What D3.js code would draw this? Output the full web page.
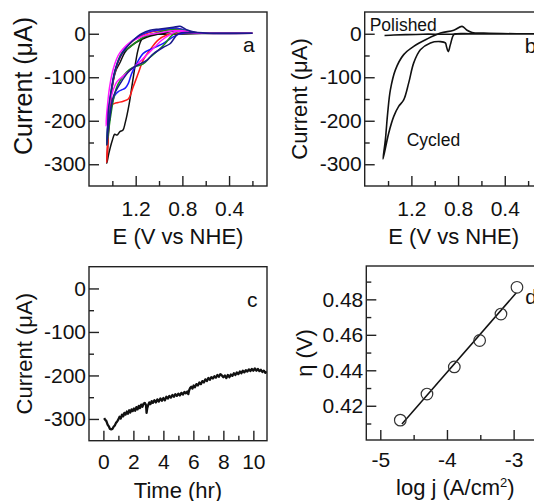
<!DOCTYPE html>
<html lang="en">
<head>
  <meta charset="utf-8">
  <title>CV panels</title>
  <style>
    body { margin: 0; background: #fff; }
    svg { display: block; }
    text { font-family: "Liberation Sans", Arial, sans-serif; fill: #111; }
    .axis .domain { display: none; }
    .axis line { stroke: #222; stroke-width: 1.4; }
    .axis text { font-size: 21px; }
    .frame { fill: none; stroke: #222; stroke-width: 1.4; }
  </style>
</head>
<body>
  <script src="https://d3js.org/d3.v7.min.js"></script>
  <svg width="534" height="501"></svg>
  <script>
    // ---- panel a : CVs, one loop per curve, [E (V), I (uA)] ----
    var cvBlack = [[0.2,1],[0.5,1],[0.7,0],[0.9,-1],[1.0,-1],[1.1,-3],[1.15,-14],[1.18,-37],[1.22,-99],[1.255,-160],
      [1.29,-205],[1.31,-222],[1.335,-225],[1.36,-233],[1.38,-231],[1.40,-245],[1.43,-275],[1.448,-298],
      [1.44,-262],[1.43,-215],[1.415,-165],[1.40,-120],[1.37,-85],[1.334,-66],[1.291,-42],[1.24,-28],[1.191,-19],
      [1.106,-8],[0.992,0],[0.85,7],[0.78,5],[0.7,2],[0.5,1],[0.2,1]];
    var cvRed = [[0.2,1],[0.6,1],[0.8,1],[0.89,0],[0.934,-3],[1.006,-14],[1.077,-37],[1.135,-60],[1.178,-91],[1.22,-121],
      [1.263,-150],[1.306,-155],[1.35,-158],[1.38,-160],[1.415,-166],[1.43,-205],[1.437,-250],[1.448,-296],
      [1.44,-240],[1.425,-180],[1.405,-130],[1.38,-92],[1.35,-65],[1.31,-42],[1.26,-25],[1.2,-12],[1.13,-2],
      [1.05,5],[0.95,9],[0.85,12],[0.78,8],[0.68,2],[0.5,1],[0.2,1]];
    var cvBlue = [[0.2,1],[0.6,1],[0.78,2],[0.84,-2],[0.878,-7],[0.963,-22],[1.049,-33],[1.135,-45],[1.19,-68],[1.234,-91],
      [1.263,-114],[1.29,-125],[1.32,-129],[1.349,-133],[1.38,-142],[1.41,-170],[1.43,-210],[1.447,-252],
      [1.44,-210],[1.425,-165],[1.405,-125],[1.38,-90],[1.35,-62],[1.31,-40],[1.26,-24],[1.2,-10],[1.14,-1],
      [1.06,6],[0.95,10],[0.85,13],[0.78,8],[0.68,2],[0.5,1],[0.2,1]];
    var cvGreen = [[0.2,1],[0.6,1],[0.75,4],[0.835,5],[0.891,-4],[0.949,-23],[1.006,-38],[1.077,-54],[1.135,-69],[1.22,-77],
      [1.277,-88],[1.334,-108],[1.363,-123],[1.39,-150],[1.415,-190],[1.435,-230],[1.448,-256],
      [1.44,-215],[1.425,-165],[1.405,-125],[1.385,-95],[1.36,-70],[1.32,-45],[1.249,-31],[1.2,-20],[1.135,-8],
      [1.049,0],[0.934,8],[0.85,10],[0.78,7],[0.68,2],[0.5,1],[0.2,1]];
    var cvMagenta = [[0.2,1],[0.6,1],[0.75,4],[0.85,5],[0.906,-2],[0.977,-15],[1.034,-30],[1.09,-45],[1.14,-58],[1.19,-71],
      [1.25,-85],[1.31,-98],[1.36,-110],[1.40,-135],[1.43,-170],[1.454,-212],
      [1.45,-190],[1.44,-160],[1.425,-125],[1.405,-95],[1.38,-70],[1.35,-50],[1.31,-35],[1.26,-22],[1.22,-15],
      [1.16,-8],[1.106,-3],[0.992,2],[0.878,7],[0.8,7],[0.7,2],[0.5,1],[0.2,1]];
    var cvNavy = [[0.2,1],[0.6,1],[0.75,3],[0.835,0],[0.906,-23],[0.963,-31],[1.049,-46],[1.106,-61],[1.191,-73],[1.249,-84],
      [1.334,-115],[1.392,-145],[1.42,-190],[1.438,-225],[1.448,-256],
      [1.44,-215],[1.434,-176],[1.405,-122],[1.377,-84],[1.334,-54],[1.277,-31],[1.22,-15],[1.149,0],[1.077,8],
      [0.992,11],[0.878,15],[0.82,17],[0.77,10],[0.7,4],[0.6,2],[0.4,1],[0.2,1]];
    var cvCurves = [cvBlack, cvRed, cvBlue, cvGreen, cvMagenta, cvNavy];
    var cvColors = ["#111111", "#ff1a1a", "#1a1aff", "#1a8a1a", "#ff1aff", "#1a1a8c"];

    // ---- panel b : polished vs cycled electrode ----
    var polished = [[1.43,-4],[1.35,-3],[1.25,-2],[1.1,-1],[0.9,-1],[0.7,0],[0.4,0],[0.1,0]];
    var cycled = [[0.1,0],[0.5,0],[0.7,0],[0.809,0],[0.837,-2],[0.866,-25],[0.884,-41],[0.899,-30],[0.909,-21],[0.951,-18],
      [1.037,-21],[1.123,-37],[1.18,-67],[1.223,-113],[1.266,-152],[1.309,-167],[1.351,-190],[1.394,-228],[1.443,-288],
      [1.423,-244],[1.403,-182],[1.38,-129],[1.337,-83],[1.266,-48],[1.18,-29],[1.066,-12],[0.951,1.5],[0.837,8],
      [0.766,17],[0.723,8],[0.68,3],[0.58,1.5],[0.3,0],[0.1,0]];

    // ---- panel c : chronoamperometry [t (hr), I (uA)] ----
    var chrono = [[0.05,-298],[0.12,-302],[0.2,-305],[0.28,-313],[0.36,-317],[0.44,-323],[0.52,-324],[0.6,-323],[0.68,-318],
      [0.76,-315],[0.84,-309],[0.92,-306],[1.0,-301],[1.08,-295],[1.16,-299],[1.24,-290],[1.32,-294],[1.4,-286],[1.48,-290],
      [1.56,-283],[1.64,-288],[1.72,-280],[1.8,-285],[1.88,-278],[1.96,-282],[2.04,-276],[2.12,-281],[2.2,-273],[2.28,-278],
      [2.36,-270],[2.44,-275],[2.52,-267],[2.6,-272],[2.68,-265],[2.76,-263],[2.84,-268],[2.88,-286],[2.92,-276],[2.98,-269],
      [3.06,-262],[3.14,-266],[3.22,-259],[3.3,-263],[3.4,-257],[3.5,-262],[3.6,-255],[3.7,-260],[3.8,-253],[3.9,-258],
      [4.0,-252],[4.1,-257],[4.2,-249],[4.3,-253],[4.4,-247],[4.5,-251],[4.6,-245],[4.7,-249],[4.8,-243],[4.9,-247],
      [5.0,-242],[5.1,-246],[5.2,-240],[5.3,-244],[5.4,-238],[5.5,-241],[5.6,-237],[5.66,-243],[5.72,-234],[5.78,-229],
      [5.86,-226],[5.94,-230],[6.02,-223],[6.1,-227],[6.2,-220],[6.3,-223],[6.4,-216],[6.5,-220],[6.6,-213],[6.7,-216],
      [6.8,-209],[6.9,-213],[7.0,-206],[7.1,-210],[7.2,-204],[7.3,-207],[7.4,-202],[7.5,-205],[7.6,-199],[7.7,-203],
      [7.8,-197],[7.9,-200],[8.0,-204],[8.1,-200],[8.2,-206],[8.3,-199],[8.4,-204],[8.5,-198],[8.6,-201],[8.7,-195],
      [8.8,-199],[8.9,-193],[9.0,-197],[9.1,-191],[9.2,-195],[9.3,-189],[9.4,-193],[9.5,-188],[9.6,-191],[9.7,-186],
      [9.8,-190],[9.9,-185],[10.0,-189],[10.1,-184],[10.2,-189],[10.3,-185],[10.4,-190],[10.5,-187],[10.6,-192],
      [10.7,-189],[10.8,-194],[10.9,-191]];

    // ---- panel d : Tafel plot ----
    var tafelLogJ = [-4.7, -4.3, -3.89, -3.51, -3.19, -2.95];
    var tafelEta = [0.4119, 0.4266, 0.4419, 0.4568, 0.4717, 0.4868];
    var tafelFit = [[-4.675, 0.4097], [-2.96, 0.4837]];

    // tick labels
    var cvTicks = [1.2, 0.8, 0.4], cvMinor = [1.4, 1.0, 0.6, 0.2];
    var currentTicks = [0, -100, -200, -300], currentMinor = [-50, -150, -250];
    var timeTicks = [0, 2, 4, 6, 8, 10], timeMinor = [1, 3, 5, 7, 9];
    var logjTicks = [-5, -4, -3], logjMinor = [-4.5, -3.5];
    var etaTicks = [0.42, 0.44, 0.46, 0.48], etaMinor = [0.41, 0.43, 0.45, 0.47, 0.49];

    const svg = d3.select("svg");
    const W = 178, H = 174;

    function panel(id, left, top, xDomain, yDomain, o) {
      var x = d3.scaleLinear().domain(xDomain).range([0, W]);
      var y = d3.scaleLinear().domain(yDomain).range([H, 0]);
      var g = svg.append("g").attr("transform", "translate(" + left + "," + top + ")");

      g.append("clipPath").attr("id", "clip-" + id)
        .append("rect").attr("width", W).attr("height", H);
      var plot = g.append("g").attr("clip-path", "url(#clip-" + id + ")");

      // inward ticks, minor ones shorter
      g.append("g").attr("class", "axis").call(d3.axisLeft(y).tickValues(o.yMinor).tickSize(-5).tickFormat(""));
      g.append("g").attr("class", "axis")
        .call(d3.axisLeft(y).tickValues(o.yTicks).tickSize(-10).tickPadding(3).tickFormat(o.yFmt));
      g.append("g").attr("class", "axis").attr("transform", "translate(0," + H + ")")
        .call(d3.axisBottom(x).tickValues(o.xMinor).tickSize(-5).tickFormat(""));
      var xa = g.append("g").attr("class", "axis").attr("transform", "translate(0," + H + ")")
        .call(d3.axisBottom(x).tickValues(o.xTicks).tickSize(-10).tickFormat(o.xFmt));
      xa.selectAll("text").attr("y", o.xLabelY).attr("dy", 0);

      g.append("rect").attr("class", "frame").attr("width", W).attr("height", H);

      g.append("text").attr("x", W / 2).attr("y", H + o.xTitleY)
        .attr("text-anchor", "middle").style("font-size", "22px").html(o.xTitle);
      g.append("text").attr("transform", "translate(" + o.yTitleX + "," + (H / 2 + (o.yTitleShift || 0)) + ")rotate(-90)")
        .attr("text-anchor", "middle").style("font-size", (o.yTitleSize || 22) + "px").text(o.yTitle);

      g.append("text").attr("x", o.tag[0]).attr("y", o.tag[1]).style("font-size", "21px").text(id);
      return { x: x, y: y, g: g, plot: plot };
    }

    var intFmt = function (d) { return String(d); };

    // a
    var pa = panel("a", 89, 12, [1.6, 0.075], [-350, 50], {
      xTicks: cvTicks, xMinor: cvMinor, yTicks: currentTicks, yMinor: currentMinor,
      xFmt: d3.format(".1f"), yFmt: intFmt, xLabelY: 30, xTitleY: 58, yTitleX: -57.5,
      yTitleSize: 25, yTitleShift: -13,
      xTitle: "E (V vs NHE)", yTitle: "Current (\u03bcA)", tag: [154, 40]
    });
    var lineA = d3.line().x(function (d) { return pa.x(d[0]); }).y(function (d) { return pa.y(d[1]); })
      .curve(d3.curveCatmullRom.alpha(0.5));
    cvCurves.forEach(function (c, i) {
      pa.plot.append("path").datum(c).attr("d", lineA)
        .attr("fill", "none").attr("stroke", cvColors[i]).attr("stroke-width", 1.5);
    });

    // b
    var pb = panel("b", 364.7, 12, [1.6, 0.075], [-350, 50], {
      xTicks: cvTicks, xMinor: cvMinor, yTicks: currentTicks, yMinor: currentMinor,
      xFmt: d3.format(".1f"), yFmt: intFmt, xLabelY: 30, xTitleY: 58, yTitleX: -57.5,
      xTitle: "E (V vs NHE)", yTitle: "Current (\u03bcA)", tag: [160, 41]
    });
    var lineB = d3.line().x(function (d) { return pb.x(d[0]); }).y(function (d) { return pb.y(d[1]); })
      .curve(d3.curveCatmullRom.alpha(0.5));
    [polished, cycled].forEach(function (c) {
      pb.plot.append("path").datum(c).attr("d", lineB)
        .attr("fill", "none").attr("stroke", "#111").attr("stroke-width", 1.6);
    });
    pb.g.append("text").attr("x", 5).attr("y", 19).style("font-size", "17.5px").text("Polished");
    pb.g.append("text").attr("x", 42).attr("y", 134).style("font-size", "17.5px").text("Cycled");

    // c
    var pc = panel("c", 89, 266.7, [-0.96, 10.91], [-350, 50], {
      xTicks: timeTicks, xMinor: timeMinor, yTicks: currentTicks, yMinor: currentMinor,
      xFmt: intFmt, yFmt: intFmt, xLabelY: 28, xTitleY: 57.5, yTitleX: -57.5,
      xTitle: "Time (hr)", yTitle: "Current (\u03bcA)", tag: [158, 40.5]
    });
    pc.plot.append("path").datum(chrono)
      .attr("d", d3.line().x(function (d) { return pc.x(d[0]); }).y(function (d) { return pc.y(d[1]); }))
      .attr("fill", "none").attr("stroke", "#111").attr("stroke-width", 2.3).attr("stroke-linejoin", "round");

    // d
    var pd = panel("d", 366.3, 266, [-5.21, -2.54], [0.4007, 0.4988], {
      xTicks: logjTicks, xMinor: logjMinor, yTicks: etaTicks, yMinor: etaMinor,
      xFmt: intFmt, yFmt: d3.format(".2f"), xLabelY: 27, xTitleY: 55, yTitleX: -54,
      xTitle: "log j (A/cm<tspan dy='-8' font-size='13px'>2</tspan><tspan dy='8'>)</tspan>",
      yTitle: "\u03b7 (V)", tag: [159, 37.5]
    });
    pd.g.append("path").datum(tafelFit)
      .attr("d", d3.line().x(function (d) { return pd.x(d[0]); }).y(function (d) { return pd.y(d[1]); }))
      .attr("fill", "none").attr("stroke", "#111").attr("stroke-width", 1.5);
    pd.g.selectAll(".pt").data(tafelLogJ).enter().append("circle")
      .attr("cx", function (d) { return pd.x(d); })
      .attr("cy", function (d, i) { return pd.y(tafelEta[i]); })
      .attr("r", 5.8).attr("fill", "none").attr("stroke", "#333").attr("stroke-width", 1.2);
  </script>
</body>
</html>
